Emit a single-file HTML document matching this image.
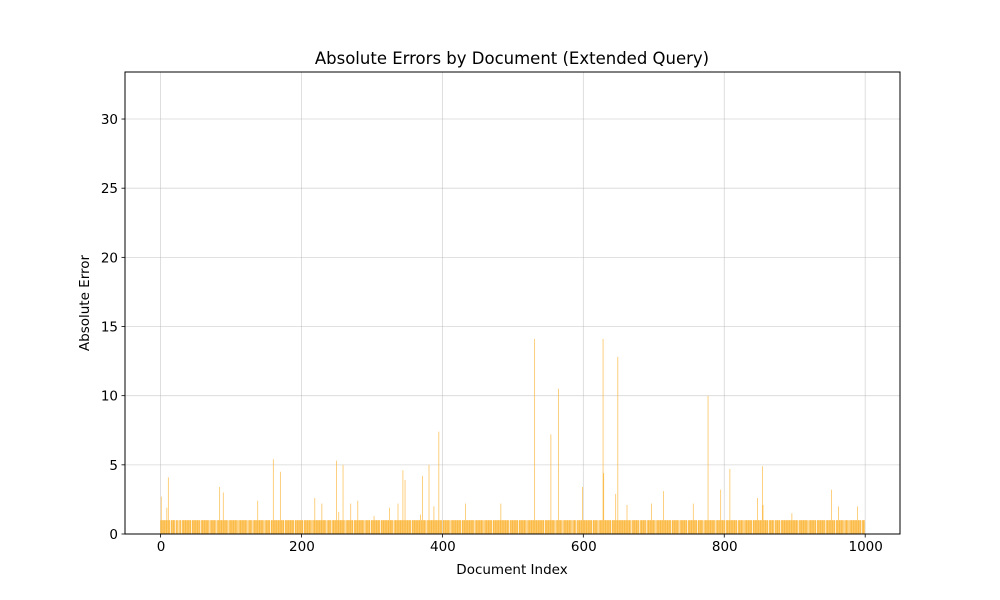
<!DOCTYPE html>
<html><head><meta charset="utf-8"><style>
body{margin:0;background:#fff;}
svg{display:block;font-family:"DejaVu Sans","Liberation Sans",sans-serif;}
</style></head><body>
<svg id="chart" width="1000" height="600">
<rect x="0" y="0" width="1000" height="600" fill="#fff"/>
<g id="grid"></g>
<g id="bars"></g>
<g id="axes"></g>
<text x="512" y="64" font-size="16.5" text-anchor="middle">Absolute Errors by Document (Extended Query)</text>
<text x="512" y="574" font-size="13.5" text-anchor="middle">Document Index</text>
<text x="89" y="303" font-size="13.5" text-anchor="middle" transform="rotate(-90 89 303)">Absolute Error</text>
</svg>
<script>
const docCount = 1000;
const spikeIdx = [1,9,11,84,89,138,160,170,219,229,250,253,259,270,280,303,325,337,344,347,369,372,381,388,395,433,483,531,554,565,599,628,629,646,649,662,697,714,756,777,795,808,847,854,855,896,952,962,989];
const spikeVal = [2.7,1.9,4.1,3.4,3.0,2.4,5.4,4.5,2.6,2.2,5.3,1.6,5.0,2.2,2.4,1.3,1.9,2.2,4.6,3.9,1.4,4.2,5.0,2.0,7.4,2.2,2.2,14.1,7.2,10.5,3.4,14.1,4.4,2.9,12.8,2.1,2.2,3.1,2.2,10.0,3.2,4.7,2.6,4.9,2.1,1.5,3.2,2.0,2.0];
const zeroIdx = [14,21,26,30,44,57,70,79,96,110,124,131,147,156,176,190,203,215,236,243,262,274,290,298,312,331,356,377,400,411,427,446,459,471,495,508,520,545,560,571,584,590,613,621,640,668,680,690,703,725,736,748,762,771,788,802,819,828,840,863,871,880,905,919,931,944,958,970,977,995];
const xTicks = [0,200,400,600,800,1000];
const yTicks = [0,5,10,15,20,25,30];

const errors = [];
for (let i = 0; i < docCount; i++) errors.push(1);
zeroIdx.forEach(i => { errors[i] = 0; });
spikeIdx.forEach((i, k) => { errors[i] = spikeVal[k]; });

const L = 125, R = 900, T = 72, B = 534;
const xMin = -50.4, xMax = 1049.4, yMax = 33.4;
const xs = v => L + (v - xMin) / (xMax - xMin) * (R - L);
const ys = v => B - v / yMax * (B - T);
const NS = "http://www.w3.org/2000/svg";
const mk = (tag, attrs, parent) => { const e = document.createElementNS(NS, tag); for (const k in attrs) e.setAttribute(k, attrs[k]); parent.appendChild(e); return e; };
const grid = document.getElementById('grid'), bars = document.getElementById('bars'), axes = document.getElementById('axes');

xTicks.forEach(t => {
  const g = mk('line', {x1: xs(t), x2: xs(t), y1: T, y2: B, stroke: '#b0b0b0', 'stroke-opacity': 0.5, 'stroke-width': 0.8}, grid);
  
  
  const tk = mk('line', {x1: xs(t), x2: xs(t), y1: B, y2: B + 3.5, stroke: '#000', 'stroke-width': 0.8}, axes);
  
  
  const lb = mk('text', {x: xs(t) + 0.5, y: B + 17, 'font-size': 13.5, 'text-anchor': 'middle'}, axes);
  lb.textContent = t;
  
  
});
yTicks.forEach(t => {
  const g = mk('line', {x1: L, x2: R, y1: ys(t), y2: ys(t), stroke: '#b0b0b0', 'stroke-opacity': 0.5, 'stroke-width': 0.8}, grid);
  
  
  const tk = mk('line', {x1: L - 3.5, x2: L, y1: ys(t), y2: ys(t), stroke: '#000', 'stroke-width': 0.8}, axes);
  
  
  const lb = mk('text', {x: L - 7, y: ys(t) + 5, 'font-size': 13.5, 'text-anchor': 'end'}, axes);
  lb.textContent = t;
  
  
});
errors.forEach((v, i) => {
  if (v <= 0) return;
  const x0 = xs(i - 0.45), x1 = xs(i + 0.45);
  const r = mk('rect', {x: x0, y: ys(v), width: x1 - x0, height: B - ys(v), fill: '#fbb537'}, bars);
  
  
});
const frame = mk('rect', {x: L, y: T, width: R - L, height: B - T, fill: 'none', stroke: '#000', 'stroke-width': 1}, axes);


</script>
</body></html>
